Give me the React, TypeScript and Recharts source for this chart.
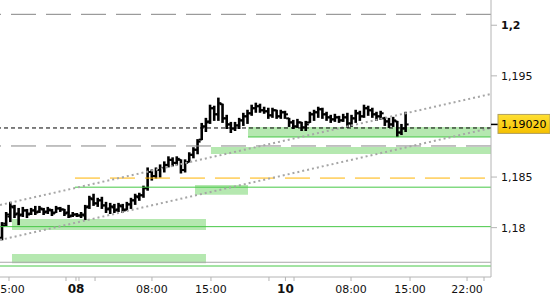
import React from "react";
import {
  ComposedChart,
  Bar,
  XAxis,
  YAxis,
  ReferenceLine,
  ReferenceArea,
} from "recharts";

// 30-minute OHLC bars, time in hours from the left edge of the chart
const BAR_START = 0.25;
const BAR_STEP = 0.5;

const opens = [
  1.179, 1.1804, 1.1811, 1.182, 1.1814, 1.1813, 1.1817, 1.1814, 1.1817, 1.1816,
  1.1818, 1.1816, 1.1817, 1.1815, 1.1819, 1.1818, 1.1815, 1.1812, 1.1813, 1.1812,
  1.1812, 1.1821, 1.1828, 1.1824, 1.1827, 1.1822, 1.1819, 1.182, 1.1818, 1.1821,
  1.1818, 1.1823, 1.1827, 1.183, 1.1832, 1.1839, 1.1855, 1.1851, 1.1857, 1.1859,
  1.1862, 1.1867, 1.1864, 1.1867, 1.1857, 1.1865, 1.1872, 1.1877, 1.1887, 1.19,
  1.1905, 1.1918, 1.1912, 1.1922, 1.1908, 1.1902, 1.1898, 1.1901, 1.1906, 1.191,
  1.1913, 1.1918, 1.192, 1.1916, 1.1915, 1.1911, 1.1916, 1.191, 1.1914, 1.1908,
  1.1904, 1.19, 1.1904, 1.1899, 1.1904, 1.1912, 1.1914, 1.1917, 1.1912, 1.1909,
  1.1907, 1.1909, 1.1906, 1.1909, 1.1903, 1.1908, 1.1913, 1.191, 1.1918, 1.1916,
  1.1912, 1.191, 1.1908, 1.1905, 1.1902, 1.1905, 1.1894, 1.1898,
];
const highs = [
  1.1805, 1.1815, 1.1825, 1.1822, 1.1819, 1.182, 1.1818, 1.1819, 1.1821, 1.1821,
  1.1819, 1.182, 1.1818, 1.1821, 1.182, 1.1818, 1.1822, 1.1815, 1.1814, 1.1815,
  1.1822, 1.1831, 1.1833, 1.1829, 1.183, 1.1825, 1.1824, 1.1823, 1.1824, 1.1823,
  1.1825, 1.1829, 1.1833, 1.1834, 1.1841, 1.1859, 1.1857, 1.1859, 1.1862, 1.1865,
  1.187, 1.1869, 1.187, 1.1867, 1.1867, 1.1874, 1.1879, 1.1887, 1.1903, 1.1908,
  1.1921, 1.192, 1.1928, 1.1922, 1.1911, 1.1904, 1.1904, 1.1908, 1.1913, 1.1916,
  1.1921, 1.1923, 1.1922, 1.1919, 1.1918, 1.1918, 1.1916, 1.1916, 1.1915, 1.1908,
  1.1906, 1.1907, 1.1904, 1.1905, 1.1914, 1.1916, 1.1919, 1.1918, 1.1914, 1.1911,
  1.1912, 1.191, 1.1912, 1.1913, 1.1911, 1.1916, 1.1915, 1.1921, 1.192, 1.1918,
  1.1914, 1.1915, 1.1909, 1.1908, 1.1909, 1.1905, 1.1902, 1.1914,
];
const lows = [
  1.1788, 1.1802, 1.1806, 1.181, 1.1803, 1.1811, 1.181, 1.1813, 1.1813, 1.1815,
  1.1813, 1.1814, 1.1812, 1.1815, 1.1816, 1.1812, 1.181, 1.1811, 1.1811, 1.181,
  1.1808, 1.1819, 1.1822, 1.1821, 1.1819, 1.1815, 1.1814, 1.1815, 1.1816, 1.1815,
  1.1817, 1.1819, 1.1823, 1.1827, 1.183, 1.1837, 1.1847, 1.1849, 1.185, 1.1855,
  1.186, 1.1861, 1.1862, 1.1854, 1.1855, 1.1865, 1.1869, 1.1873, 1.1887, 1.1895,
  1.1903, 1.1906, 1.1906, 1.1904, 1.1898, 1.1894, 1.1896, 1.1898, 1.1901, 1.1903,
  1.1911, 1.1914, 1.1914, 1.1913, 1.1908, 1.1909, 1.1908, 1.1908, 1.1908, 1.19,
  1.1898, 1.1899, 1.1896, 1.1896, 1.1904, 1.1906, 1.1909, 1.1908, 1.1906, 1.1904,
  1.1905, 1.1904, 1.1905, 1.1899, 1.19, 1.1904, 1.1906, 1.1909, 1.1911, 1.1909,
  1.1906, 1.1907, 1.1901, 1.1899, 1.19, 1.189, 1.1892, 1.1895,
];
const closes = [
  1.1802, 1.1813, 1.1821, 1.1813, 1.1812, 1.1817, 1.1813, 1.1817, 1.1815, 1.1819,
  1.1815, 1.1818, 1.1814, 1.1819, 1.1818, 1.1814, 1.1811, 1.1813, 1.1812, 1.1813,
  1.182, 1.1829, 1.1824, 1.1827, 1.1822, 1.1818, 1.1821, 1.1817, 1.1822, 1.1817,
  1.1823, 1.1827, 1.1831, 1.1832, 1.1839, 1.1855, 1.1851, 1.1857, 1.1859, 1.1862,
  1.1867, 1.1864, 1.1868, 1.1857, 1.1864, 1.1872, 1.1877, 1.1885, 1.19, 1.1904,
  1.1918, 1.1912, 1.1923, 1.1908, 1.1902, 1.1898, 1.1901, 1.1906, 1.191, 1.1913,
  1.1918, 1.192, 1.1916, 1.1915, 1.1911, 1.1916, 1.191, 1.1914, 1.1912, 1.1904,
  1.19, 1.1904, 1.1899, 1.1902, 1.1912, 1.1914, 1.1917, 1.1912, 1.1909, 1.1907,
  1.1909, 1.1906, 1.1909, 1.1903, 1.1908, 1.1913, 1.191, 1.1918, 1.1916, 1.1912,
  1.191, 1.1913, 1.1905, 1.1902, 1.1906, 1.1894, 1.1898, 1.1902,
];

const lastPrice = 1.1902;

// horizontal levels
const grayDashedLevels = [1.20108, 1.18807];
const blackDashedLevel = 1.18985;
const orangeLevel = 1.1849;
const greenLevelFromMonday = 1.184;
const greenLevels = [1.1801, 1.17621];
const grayLevel = 1.17658;
const levelStart = 9.01;

// trend channel [start price, end price]
const trendUpper = [1.18224, 1.19321];
const trendLower = [1.17878, 1.18985];

// zones: [t1, t2, price top, price bottom]
const zones = [
  [1.44, 24.75, 1.1774, 1.17648],
  [1.44, 24.75, 1.18086, 1.17977],
  [23.43, 29.8, 1.18422, 1.18326],
  [25.35, 59, 1.18797, 1.18728],
  [29.8, 59, 1.18995, 1.18896],
];
const zoneEdge = [29.8, 59, 1.18896];

const timeTicks = [1.08, 7.93, 9.13, 9.49, 11.42, 18.26, 25.35, 32.32, 34.3, 35.33, 42.18, 49.27, 56.12, 58.16];
const timeLabels = ["15:00", "", "08", "", "", "08:00", "15:00", "", "10", "", "08:00", "15:00", "22:00", ""];
const dayLabels = ["08", "10"];

const priceTicks = [1.18, 1.185, 1.1902, 1.195, 1.2];
const priceLabels = ["1,18", "1,185", "1,19020", "1,195", "1,2"];
const roundPrice = 1.2;

const T_MAX = 59;
const P_MIN = 1.175124;
const P_MAX = 1.202495;

const FONT = "'DejaVu Sans', Verdana, sans-serif";
const GREEN = "#46c846";
const ZONE = "#b5e8b0";

const rows = opens.map((o, i) => ({
  t: BAR_START + i * BAR_STEP,
  open: o,
  high: highs[i],
  low: lows[i],
  close: closes[i],
  range: [lows[i], highs[i]],
}));

const OhlcShape = (props: any) => {
  const { x = 0, y = 0, width = 0, height = 0, payload } = props;
  if (!payload) return null;
  const top = Math.min(y, y + height);
  const bottom = Math.max(y, y + height);
  const span = payload.high - payload.low || 1;
  const yOf = (v: number) => top + ((payload.high - v) / span) * (bottom - top);
  const cx = x + width / 2;
  return (
    <g>
      <line x1={cx} x2={cx} y1={top - 0.5} y2={bottom + 0.5} stroke="#000" strokeWidth={2.6} />
      <line x1={cx - 3} x2={cx} y1={yOf(payload.open)} y2={yOf(payload.open)} stroke="#000" strokeWidth={2} />
      <line x1={cx} x2={cx + 3} y1={yOf(payload.close)} y2={yOf(payload.close)} stroke="#000" strokeWidth={2} />
    </g>
  );
};

const TimeTick = (props: any) => {
  const { x, y, payload } = props;
  const idx = timeTicks.indexOf(payload.value);
  const label = idx >= 0 ? timeLabels[idx] : "";
  if (!label) return null;
  const bold = dayLabels.includes(label);
  return (
    <text
      x={x}
      y={y + 10}
      textAnchor="middle"
      fontFamily={FONT}
      fontSize={bold ? 12 : 11}
      fontWeight={bold ? "bold" : "normal"}
      fill="#111"
    >
      {label}
    </text>
  );
};

const PriceTick = (props: any) => {
  const { x, y, payload } = props;
  const idx = priceTicks.indexOf(payload.value);
  const label = idx >= 0 ? priceLabels[idx] : "";
  if (payload.value === lastPrice) {
    return (
      <g>
        <line x1={x - 9} x2={x - 2} y1={y} y2={y} stroke="#000" strokeWidth={1.5} />
        <rect x={x - 2} y={y - 10} width={52} height={19} fill="url(#priceGold)" stroke="#b0a060" />
        <text x={x + 1} y={y} dy="0.36em" fontFamily={FONT} fontSize={11} fill="#000">
          {label}
        </text>
      </g>
    );
  }
  return (
    <text
      x={x + 1}
      y={y}
      dy="0.36em"
      fontFamily={FONT}
      fontSize={11}
      fontWeight={payload.value === roundPrice ? "bold" : "normal"}
      fill="#111"
    >
      {label}
    </text>
  );
};

export default function App() {
  return (
    <div style={{ width: 550, height: 300, background: "#fff", overflow: "hidden" }}>
      <style>{"body{margin:0;}"}</style>
      <ComposedChart
        width={550}
        height={300}
        data={rows}
        margin={{ top: 0, right: 0, bottom: 0, left: 0 }}
      >
        <defs>
          <linearGradient id="priceGold" x1="0" y1="0" x2="0" y2="1">
            <stop offset="0%" stopColor="#ffe033" />
            <stop offset="100%" stopColor="#f5c000" />
          </linearGradient>
        </defs>
        <XAxis
          dataKey="t"
          type="number"
          domain={[0, T_MAX]}
          allowDataOverflow
          ticks={timeTicks}
          interval={0}
          height={23}
          tickSize={4}
          tickMargin={2}
          axisLine={{ stroke: "#b4b4b4" }}
          tickLine={{ stroke: "#b4b4b4" }}
          tick={<TimeTick />}
        />
        <YAxis
          orientation="right"
          type="number"
          domain={[P_MIN, P_MAX]}
          allowDataOverflow
          ticks={priceTicks}
          interval={0}
          width={59}
          tickSize={6}
          tickMargin={3}
          axisLine={{ stroke: "#b4b4b4" }}
          tickLine={{ stroke: "#b4b4b4" }}
          tick={<PriceTick />}
        />

        {zones.map((z, i) => (
          <ReferenceArea
            key={`zone-${i}`}
            x1={z[0]}
            x2={z[1]}
            y1={z[2]}
            y2={z[3]}
            fill={ZONE}
            fillOpacity={1}
            stroke="none"
            ifOverflow="hidden"
          />
        ))}

        {grayDashedLevels.map((p, i) => (
          <ReferenceLine key={`gd-${i}`} y={p} stroke="#858585" strokeDasharray="25 10" />
        ))}
        <ReferenceLine y={grayLevel} stroke="#a8a8a8" />
        {greenLevels.map((p, i) => (
          <ReferenceLine key={`gl-${i}`} y={p} stroke={GREEN} />
        ))}
        <ReferenceLine
          segment={[{ x: levelStart, y: greenLevelFromMonday }, { x: T_MAX, y: greenLevelFromMonday }]}
          stroke={GREEN}
        />
        <ReferenceLine
          segment={[{ x: levelStart, y: orangeLevel }, { x: T_MAX, y: orangeLevel }]}
          stroke="#ffb400"
          strokeDasharray="25 10"
        />
        <ReferenceLine
          segment={[{ x: zoneEdge[0], y: zoneEdge[2] }, { x: zoneEdge[1], y: zoneEdge[2] }]}
          stroke={GREEN}
        />
        <ReferenceLine
          segment={[{ x: 0, y: trendUpper[0] }, { x: T_MAX, y: trendUpper[1] }]}
          stroke="#a6a6a6"
          strokeWidth={2}
          strokeDasharray="2 3"
        />
        <ReferenceLine
          segment={[{ x: 0, y: trendLower[0] }, { x: T_MAX, y: trendLower[1] }]}
          stroke="#a6a6a6"
          strokeWidth={2}
          strokeDasharray="2 3"
        />
        <ReferenceLine y={blackDashedLevel} stroke="#000" strokeDasharray="4 3" />

        <Bar dataKey="range" barSize={4} shape={<OhlcShape />} isAnimationActive={false} />
      </ComposedChart>
    </div>
  );
}
